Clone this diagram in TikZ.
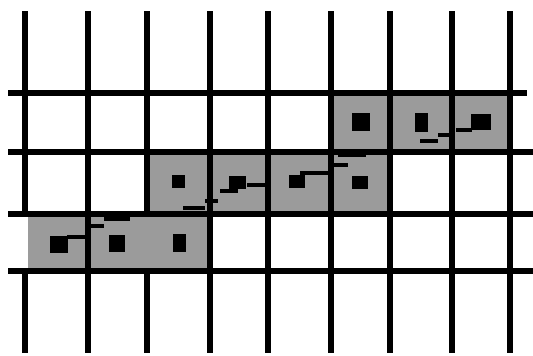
\documentclass[tikz,border=0pt]{standalone}
\definecolor{cellgray}{RGB}{155,155,155}
\tikzset{
  gridline/.style={line width=5.5pt, black},
  cellfill/.style={fill=cellgray},
  pix/.style={fill=black},
  stair/.style={line width=3.5pt, black}
}
\begin{document}
\begin{tikzpicture}[x=1pt,y=-1pt]
\useasboundingbox (0,0) rectangle (533,356);
\fill[white] (0,0) rectangle (533,356);
% shaded cells
\fill[cellfill] (331,93) rectangle (510,152);
\fill[cellfill] (147,152) rectangle (390,214);
\fill[cellfill] (28,214) rectangle (210,271);
% vertical grid lines
\foreach \x in {88,210,268,331,390,452,510}
  \draw[gridline] (\x,11) -- (\x,353);
\foreach \x in {25,147}{
  \draw[gridline] (\x,11) -- (\x,214);
  \draw[gridline] (\x,271) -- (\x,353);
}
% horizontal grid lines
\draw[gridline] (8,93) -- (527,93);
\foreach \y in {152,214,271}
  \draw[gridline] (8,\y) -- (533,\y);
% black pixels
\foreach \cx/\cy/\w/\h in {59/244/18/17, 117/243/16/17, 179/243/13/18,
  178/181/13/13, 237/182/17/13, 297/181/16/13, 360/182/16/13,
  361/122/18/18, 421/122/13/19, 481/122/20/16}
  \fill[pix] (\cx-\w/2,\cy-\h/2) rectangle (\cx+\w/2,\cy+\h/2);
% staircase line
\foreach \xa/\xb/\y in {67/86/237, 90/104/226, 104/130/219, 183/205/208,
  205/218/201, 220/238/191, 247/268/185, 300/330/173, 333/348/165,
  338/366/155, 420/438/141, 438/452/135, 456/472/130}
  \draw[stair] (\xa,\y) -- (\xb,\y);
\end{tikzpicture}
\end{document}
